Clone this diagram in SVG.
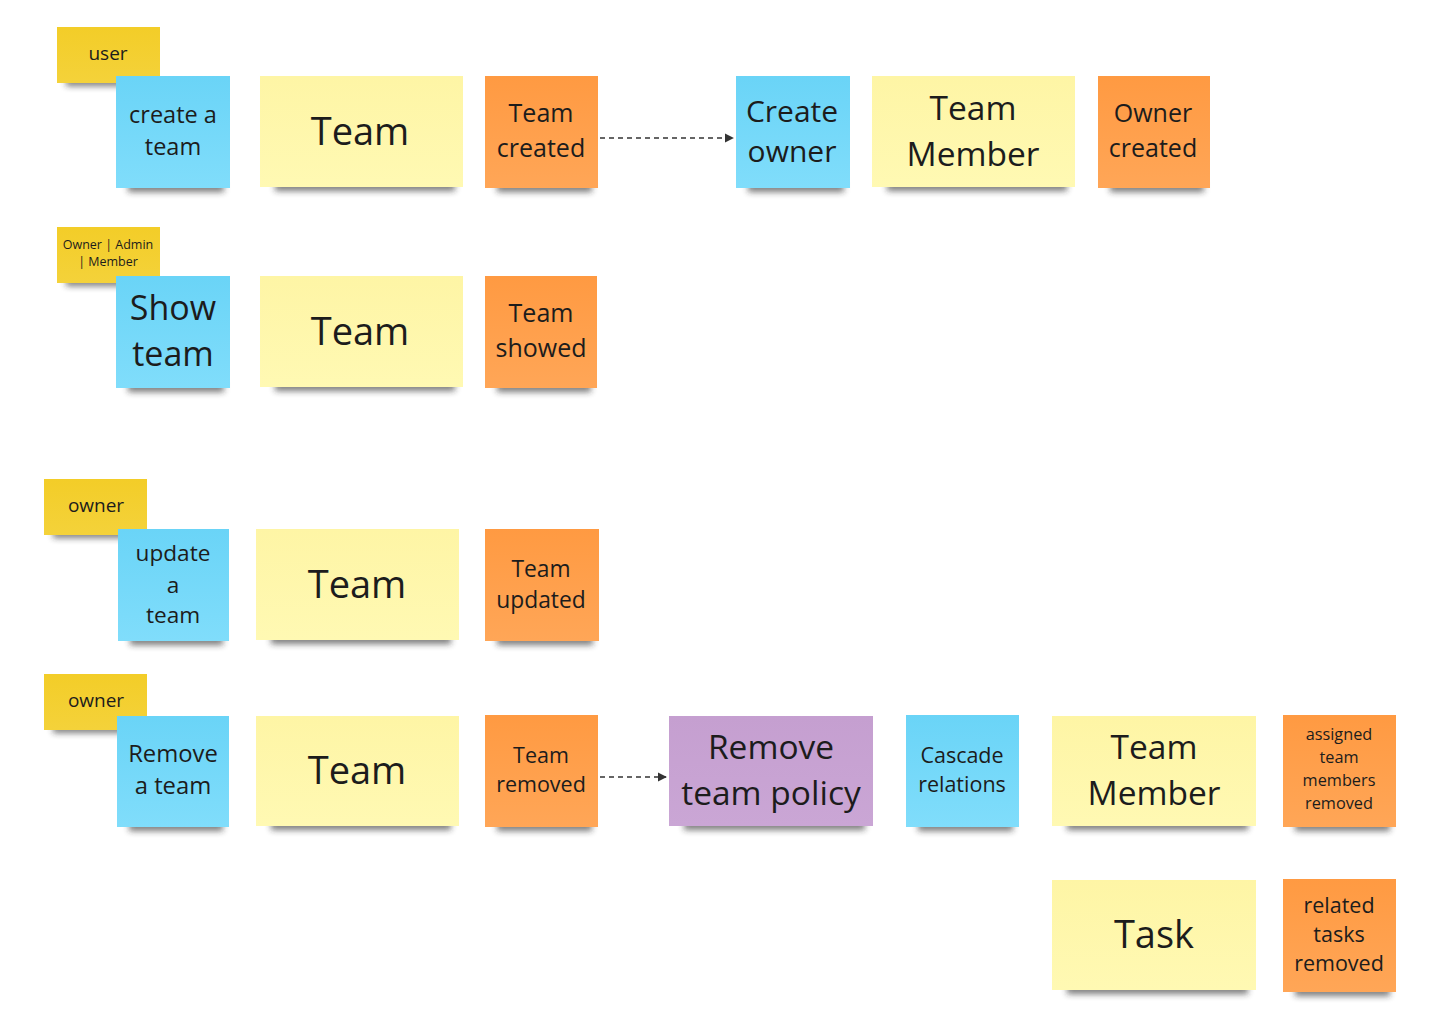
<svg xmlns="http://www.w3.org/2000/svg" width="1437" height="1013" viewBox="0 0 1437 1013">
<style>
text{font-family:"Open Sans","Noto Sans","DejaVu Sans",sans-serif;fill:#1c1c1c;text-anchor:middle;dominant-baseline:central}
.sh{fill:#222;opacity:0.6;filter:url(#blur)}
.blue{fill:url(#gBlue)}
.yel{fill:url(#gYel)}
.ora{fill:url(#gOra)}
.gold{fill:url(#gGold)}
.pur{fill:url(#gPur)}
.conn{stroke:#333;stroke-width:1.3;stroke-dasharray:5 4;fill:none}
</style>
<defs>
<filter id="blur" x="-20%" y="-100%" width="140%" height="300%"><feGaussianBlur stdDeviation="3"/></filter>
<linearGradient id="gBlue" x1="0" y1="0" x2="0" y2="1"><stop offset="0" stop-color="#6AD4F7"/><stop offset="1" stop-color="#80DDFB"/></linearGradient>
<linearGradient id="gYel" x1="0" y1="0" x2="0" y2="1"><stop offset="0" stop-color="#FEF5A5"/><stop offset="1" stop-color="#FFF9B3"/></linearGradient>
<linearGradient id="gOra" x1="0" y1="0" x2="0" y2="1"><stop offset="0" stop-color="#FF9A42"/><stop offset="1" stop-color="#FFA657"/></linearGradient>
<linearGradient id="gGold" x1="0" y1="0" x2="0" y2="1"><stop offset="0" stop-color="#F3CD28"/><stop offset="1" stop-color="#F4D23A"/></linearGradient>
<linearGradient id="gPur" x1="0" y1="0" x2="0" y2="1"><stop offset="0" stop-color="#C59FD0"/><stop offset="1" stop-color="#CAA6D5"/></linearGradient>
<marker id="arr" viewBox="0 0 10 10" refX="9" refY="5" markerWidth="7" markerHeight="7" orient="auto"><path d="M0,0 L10,5 L0,10 Z" fill="#333"/></marker>
</defs>

<g id="connectors">
<line class="conn" x1="600" y1="138" x2="733" y2="138" marker-end="url(#arr)"/>
<line class="conn" x1="600" y1="777" x2="666" y2="777" marker-end="url(#arr)"/>
</g>

<!-- Row 1 -->
<g id="n-user"><rect class="sh" x="66" y="78" width="88" height="8"/><rect class="gold" x="57" y="27" width="103" height="56"/><text x="108" y="53" font-size="19">user</text></g>
<g id="n-create-team"><rect class="sh" x="128" y="183" width="96" height="9"/><rect class="blue" x="116" y="76" width="114" height="112"/><text x="173" y="114" font-size="23.5">create a</text><text x="173" y="146" font-size="23.5">team</text></g>
<g id="n-team1"><rect class="sh" x="275" y="182" width="180" height="9"/><rect class="yel" x="260" y="76" width="203" height="111"/><text x="360" y="130" font-size="38">Team</text></g>
<g id="n-team-created"><rect class="sh" x="497" y="183" width="95" height="9"/><rect class="ora" x="485" y="76" width="113" height="112"/><text x="541" y="112" font-size="25">Team</text><text x="541" y="147" font-size="25">created</text></g>
<g id="n-create-owner"><rect class="sh" x="748" y="183" width="96" height="9"/><rect class="blue" x="736" y="76" width="114" height="112"/><text x="792" y="110" font-size="30">Create</text><text x="792" y="150" font-size="30">owner</text></g>
<g id="n-team-member1"><rect class="sh" x="887" y="182" width="180" height="9"/><rect class="yel" x="872" y="76" width="203" height="111"/><text x="973" y="107" font-size="33.5">Team</text><text x="973" y="153" font-size="33.5">Member</text></g>
<g id="n-owner-created"><rect class="sh" x="1110" y="183" width="94" height="9"/><rect class="ora" x="1098" y="76" width="112" height="112"/><text x="1153" y="112" font-size="25">Owner</text><text x="1153" y="147" font-size="25">created</text></g>

<!-- Row 2 -->
<g id="n-roles"><rect class="sh" x="66" y="278" width="88" height="8"/><rect class="gold" x="57" y="227" width="103" height="56"/><text x="108" y="244" font-size="12.5">Owner | Admin</text><text x="108" y="261" font-size="12.5">| Member</text></g>
<g id="n-show-team"><rect class="sh" x="128" y="383" width="96" height="9"/><rect class="blue" x="116" y="276" width="114" height="112"/><text x="173" y="307" font-size="34">Show</text><text x="173" y="353" font-size="34">team</text></g>
<g id="n-team2"><rect class="sh" x="275" y="382" width="180" height="9"/><rect class="yel" x="260" y="276" width="203" height="111"/><text x="360" y="330" font-size="38">Team</text></g>
<g id="n-team-showed"><rect class="sh" x="497" y="383" width="94" height="9"/><rect class="ora" x="485" y="276" width="112" height="112"/><text x="541" y="312" font-size="25">Team</text><text x="541" y="347" font-size="25">showed</text></g>

<!-- Row 3 -->
<g id="n-owner1"><rect class="sh" x="53" y="530" width="88" height="8"/><rect class="gold" x="44" y="479" width="103" height="56"/><text x="96" y="505" font-size="19">owner</text></g>
<g id="n-update-team"><rect class="sh" x="130" y="636" width="93" height="9"/><rect class="blue" x="118" y="529" width="111" height="112"/><text x="173" y="552" font-size="22.6">update</text><text x="173" y="584" font-size="22.6">a</text><text x="173" y="614" font-size="22.6">team</text></g>
<g id="n-team3"><rect class="sh" x="271" y="635" width="180" height="9"/><rect class="yel" x="256" y="529" width="203" height="111"/><text x="357" y="583" font-size="38">Team</text></g>
<g id="n-team-updated"><rect class="sh" x="497" y="636" width="96" height="9"/><rect class="ora" x="485" y="529" width="114" height="112"/><text x="541" y="568" font-size="22.8">Team</text><text x="541" y="599" font-size="22.8">updated</text></g>

<!-- Row 4 -->
<g id="n-owner2"><rect class="sh" x="53" y="725" width="88" height="8"/><rect class="gold" x="44" y="674" width="103" height="56"/><text x="96" y="700" font-size="19">owner</text></g>
<g id="n-remove-team"><rect class="sh" x="129" y="822" width="94" height="9"/><rect class="blue" x="117" y="716" width="112" height="111"/><text x="173" y="753" font-size="23.8">Remove</text><text x="173" y="785" font-size="23.8">a team</text></g>
<g id="n-team4"><rect class="sh" x="271" y="821" width="180" height="9"/><rect class="yel" x="256" y="716" width="203" height="110"/><text x="357" y="769" font-size="38">Team</text></g>
<g id="n-team-removed"><rect class="sh" x="497" y="822" width="95" height="9"/><rect class="ora" x="485" y="715" width="113" height="112"/><text x="541" y="754" font-size="21.5">Team</text><text x="541" y="783" font-size="21.5">removed</text></g>
<g id="n-policy"><rect class="sh" x="684" y="821" width="181" height="9"/><rect class="pur" x="669" y="716" width="204" height="110"/><text x="771" y="746" font-size="33.5">Remove</text><text x="771" y="792" font-size="33.5">team policy</text></g>
<g id="n-cascade"><rect class="sh" x="918" y="822" width="95" height="9"/><rect class="blue" x="906" y="715" width="113" height="112"/><text x="962" y="754" font-size="21.5">Cascade</text><text x="962" y="783" font-size="21.5">relations</text></g>
<g id="n-team-member2"><rect class="sh" x="1067" y="821" width="181" height="9"/><rect class="yel" x="1052" y="716" width="204" height="110"/><text x="1154" y="746" font-size="33.5">Team</text><text x="1154" y="792" font-size="33.5">Member</text></g>
<g id="n-assigned"><rect class="sh" x="1295" y="822" width="95" height="9"/><rect class="ora" x="1283" y="715" width="113" height="112"/><text x="1339" y="734" font-size="16.3">assigned</text><text x="1339" y="757" font-size="16.3">team</text><text x="1339" y="780" font-size="16.3">members</text><text x="1339" y="803" font-size="16.3">removed</text></g>

<!-- Row 5 -->
<g id="n-task"><rect class="sh" x="1067" y="985" width="181" height="9"/><rect class="yel" x="1052" y="880" width="204" height="110"/><text x="1154" y="933" font-size="38">Task</text></g>
<g id="n-related"><rect class="sh" x="1295" y="987" width="95" height="9"/><rect class="ora" x="1283" y="879" width="113" height="113"/><text x="1339" y="904" font-size="21.5">related</text><text x="1339" y="933" font-size="21.5">tasks</text><text x="1339" y="962" font-size="21.5">removed</text></g>
</svg>
